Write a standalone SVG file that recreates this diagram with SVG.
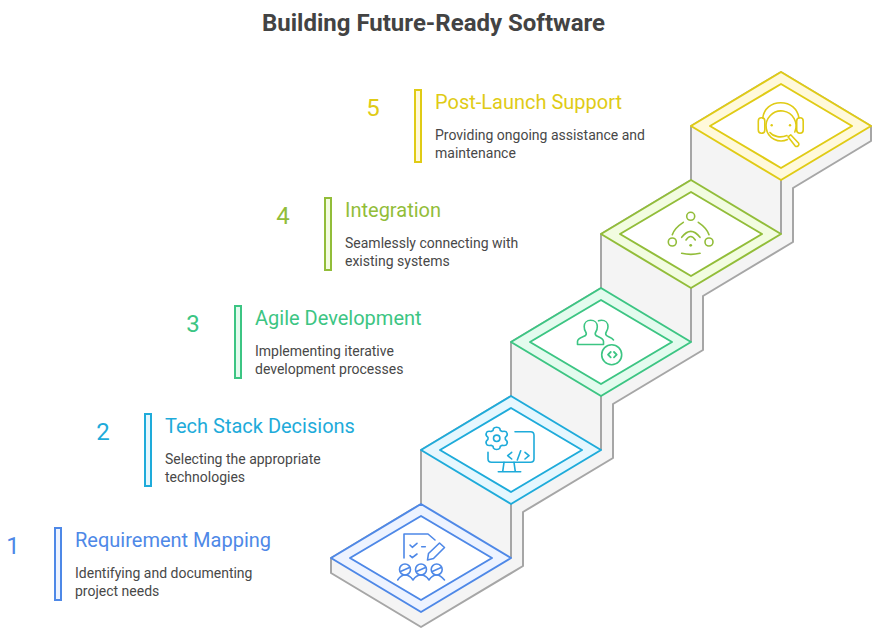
<svg xmlns="http://www.w3.org/2000/svg" width="880" height="640" viewBox="0 0 880 640">
<style>
text{font-family:Roboto,"Liberation Sans",sans-serif}
.title{font-size:24px;font-weight:700;fill:#434343;text-anchor:middle}
.num{font-size:24px;text-anchor:middle}
.lab{font-size:20px}
.desc{font-size:14px;fill:#484848}
.ic{fill:none;stroke-width:1.6;stroke-linecap:round;stroke-linejoin:round}
.d{stroke-width:2;stroke-linejoin:round}
.inner{fill:#fff;stroke-width:2;stroke-linejoin:round}
.gray{stroke:#a6a6a6;stroke-width:2;fill:none;stroke-linejoin:round}
.b1{stroke:#4e88e7}.f1{fill:#edf3ff}.t1{fill:#4e88e7}
.b2{stroke:#1eabda}.f2{fill:#e5f7fe}.t2{fill:#1eabda}
.b3{stroke:#3cc583}.f3{fill:#e3fbee}.t3{fill:#3cc583}
.b4{stroke:#92bd39}.f4{fill:#f2fce0}.t4{fill:#92bd39}
.b5{stroke:#e0cb15}.f5{fill:#fff9da}.t5{fill:#e0cb15}
</style>
<text class="title" x="433.5" y="31">Building Future-Ready Software</text>
<g id="stairs">
<path d="M331 558V573L421 627L523 566V512L613 458V404L703 350V296L793 242V188L871 141V126L781 72L691 126V180L601 234V288L511 342V396L421 450V504Z" fill="#f4f4f4" stroke="#a6a6a6" stroke-width="2" stroke-linejoin="round"/>
<path class="gray" d="M511 504V558M601 396V450M691 288V342M781 180V234"/>
</g>
<g id="step1">
<rect class="f1 b1" x="55" y="528" width="6" height="72" stroke-width="2"/>
<text class="num t1" x="13" y="554">1</text>
<text class="lab t1" x="75" y="547">Requirement Mapping</text>
<text class="desc" x="75" y="578">Identifying and documenting</text>
<text class="desc" x="75" y="596">project needs</text>
<path class="d f1 b1" d="M331 558L421 504L511 558L421 612Z"/>
<path class="inner b1" d="M350 558L421 516L492 558L421 600Z"/>
<g class="ic b1">
<path d="M404 558V534H428L435 540"/>
<path d="M410 545L412.3 547.3L417 543.3M421.7 546.7H425.3M410 555.7L412.3 557.7L417 554"/>
<path d="M427.5 560L428.5 553.5L439.5 543L444.5 547.5L433.5 558.5Z"/>
<circle cx="405" cy="569.5" r="5.5"/><circle cx="421" cy="569.5" r="5.5"/><circle cx="436.7" cy="569.5" r="5.5"/>
<path d="M400.5 571.5L409.5 567.5M416.5 571.5L425.5 567.5M432.2 571.5L441.2 567.5"/>
<path d="M397.7 580C400 576.5 402 575 405 575C408 575 411 577 413 580C415 577 418 575 421 575C424 575 427 577 429 580C431 577 434 575 436.7 575C439.5 575 442 577 444.5 580"/>
</g>
</g>
<g id="step2">
<rect class="f2 b2" x="145" y="414" width="6" height="72" stroke-width="2"/>
<text class="num t2" x="103" y="440">2</text>
<text class="lab t2" x="165" y="433">Tech Stack Decisions</text>
<text class="desc" x="165" y="464">Selecting the appropriate</text>
<text class="desc" x="165" y="482">technologies</text>
<path class="d f2 b2" d="M421 450L511 396L601 450L511 504Z"/>
<path class="inner b2" d="M440 450L511 408L582 450L511 492Z"/>
<g class="ic b2">
<path d="M493.5 428.5C494.5 426.8 498.8 426.8 499.8 428.5L500.3 430.5L502.3 431.5C504.5 431 506.5 431.5 507 433C507.7 434.5 506.7 436.3 505.3 437.3V439.3C506.7 440.3 507.7 442.2 507 443.7C506.5 445.2 504.5 445.7 502.3 445.2L500.3 446.2L499.8 448.2C498.8 449.9 494.5 449.9 493.5 448.2L493 446.2L491 445.2C488.8 445.7 486.8 445.2 486.3 443.7C485.6 442.2 486.6 440.3 488 439.3V437.3C486.6 436.3 485.6 434.5 486.3 433C486.8 431.5 488.8 431 491 431.5L493 430.5Z"/>
<circle cx="496.7" cy="438.3" r="3.2"/>
<path d="M515 431.7H530.5Q534 431.7 534 435.2V458.8Q534 462.3 530.5 462.3H491.5Q488 462.3 488 458.8V452.3"/>
<path d="M504 462.3L502.7 471.7M514 462.3L515.3 471.7M498.3 471.7H520.7"/>
<path d="M511.7 452.3L507.7 455.7L511.7 459M520.7 450.7L517.3 460M525 452.3L529 455.7L525 459"/>
</g>
</g>
<g id="step3">
<rect class="f3 b3" x="235" y="306" width="6" height="72" stroke-width="2"/>
<text class="num t3" x="193" y="332">3</text>
<text class="lab t3" x="255" y="325">Agile Development</text>
<text class="desc" x="255" y="356">Implementing iterative</text>
<text class="desc" x="255" y="374">development processes</text>
<path class="d f3 b3" d="M511 342L601 288L691 342L601 396Z"/>
<path class="inner b3" d="M530 342L601 300L672 342L601 384Z"/>
<g class="ic b3">
<path d="M577.5 344.5H603.5V341.5C603.5 338 598 337 596 335.5C595 334.5 595 333 596 331.5C597 330 597.3 328.5 597.3 326.5C597.3 322.8 594.5 320.3 590.7 320.3C587 320.3 584.2 322.8 584.2 326.5C584.2 328.5 584.5 330 585.5 331.5C586.5 333 586.5 334.5 585.5 335.5C583.5 337 577.5 338 577.5 341.5Z"/>
<path d="M598.5 320.8C599.5 320.4 600.5 320.3 601.5 320.3C605.2 320.3 608 322.8 608 326.5C608 328.5 607.5 330 606.5 331.5C605.5 333 605.5 334.5 606.5 335.5C608 337 611.5 337.5 613.5 340"/>
<circle cx="611.7" cy="354.7" r="10"/>
<path d="M610.7 352L608 354.7L610.7 357.3M614 352L616.7 354.7L614 357.3" stroke-width="1.8"/>
</g>
</g>
<g id="step4">
<rect class="f4 b4" x="325" y="198" width="6" height="72" stroke-width="2"/>
<text class="num t4" x="283" y="224">4</text>
<text class="lab t4" x="345" y="217">Integration</text>
<text class="desc" x="345" y="248">Seamlessly connecting with</text>
<text class="desc" x="345" y="266">existing systems</text>
<path class="d f4 b4" d="M601 234L691 180L781 234L691 288Z"/>
<path class="inner b4" d="M620 234L691 192L762 234L691 276Z"/>
<g class="ic b4">
<circle cx="690.7" cy="216.3" r="4"/><circle cx="672.3" cy="242" r="4"/><circle cx="709" cy="242" r="4"/>
<path d="M672.3 234.7Q674.5 228 683.3 222.3M698.3 222.3Q706.8 228 709 234.7M681.7 253.3Q690.8 255.5 700 253.3"/>
<path d="M681.7 237.3Q690.8 225.5 700 237.3M686 240Q690.7 233 695.3 240"/>
<circle cx="690.7" cy="245.3" r="1.4" class="t4" stroke="none"/>
</g>
</g>
<g id="step5">
<rect class="f5 b5" x="415" y="90" width="6" height="72" stroke-width="2"/>
<text class="num t5" x="373" y="116">5</text>
<text class="lab t5" x="435" y="109">Post-Launch Support</text>
<text class="desc" x="435" y="140">Providing ongoing assistance and</text>
<text class="desc" x="435" y="158">maintenance</text>
<path class="d f5 b5" d="M691 126L781 72L871 126L781 180Z"/>
<path class="inner b5" d="M710 126L781 84L852 126L781 168Z"/>
<g class="ic b5">
<path d="M762.7 118C764 109 771 102.7 780.7 102.7C790.5 102.7 797.5 109 799 118"/>
<rect x="758.3" y="117.7" width="6.5" height="15.6" rx="3.2"/>
<rect x="796.7" y="117.7" width="6.5" height="15.6" rx="3.2"/>
<path d="M787.5 139.5A15 15 0 1 1 794.8 132"/>
<path d="M770 132.5C773.5 137 781 138 787 135.5"/>
<path d="M788 136.8L790.7 134.8L798.7 143.2Q799.5 145 798 146Q796.5 147 795 145.8Z"/>
<circle cx="771.7" cy="125.3" r="1.2" class="t5" stroke="none"/><circle cx="790" cy="125.3" r="1.2" class="t5" stroke="none"/>
</g>
</g>
</svg>
